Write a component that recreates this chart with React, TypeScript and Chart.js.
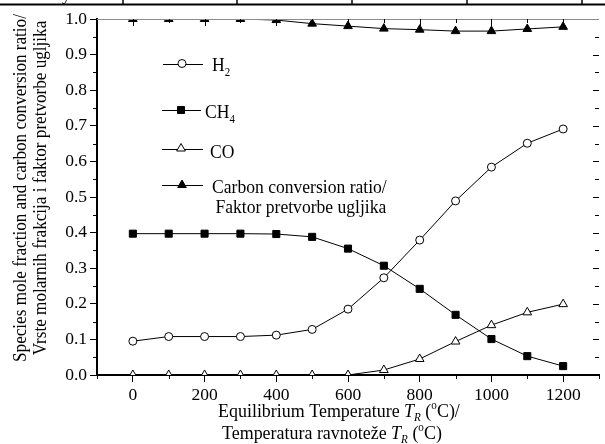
import React, { useEffect, useRef } from "react";
import { Chart, registerables } from "chart.js";

Chart.register(...registerables);

// ---------- data ----------
const temperatures = [0, 100, 200, 300, 400, 500, 600, 700, 800, 900, 1000, 1100, 1200];
const h2Fraction = [0.095, 0.108, 0.108, 0.108, 0.112, 0.128, 0.185, 0.273, 0.379, 0.489, 0.584, 0.651, 0.691];
const ch4Fraction = [0.397, 0.397, 0.397, 0.397, 0.396, 0.388, 0.355, 0.307, 0.242, 0.169, 0.101, 0.053, 0.025];
const coFraction = [0, 0, 0, 0, 0, 0, 0, 0.014, 0.045, 0.094, 0.14, 0.176, 0.199];
const carbonConversion = [1.0, 1.0, 1.0, 1.0, 0.997, 0.987, 0.98, 0.973, 0.97, 0.966, 0.966, 0.972, 0.978];

const xMin = -100;
const xMax = 1300;
const xStep = 100;
const yMin = 0;
const yMax = 1;
const yStep = 0.05;

const legendLabels = ["H", "CH", "CO", "Carbon conversion ratio/", "Faktor pretvorbe ugljika"];
const legendSubs = ["2", "4"];
const yTitleLines = [
  "Species mole fraction and carbon conversion ratio/",
  "Vrste molarnih frakcija i faktor pretvorbe ugljika",
];
const xTitleLine1 = "Equilibrium Temperature ";
const xTitleLine2 = "Temperatura ravnoteže ";

const FONT = '"Liberation Serif", "Times New Roman", serif';

type Seg = { t: string; italic?: boolean; sub?: boolean; sup?: boolean };

function drawRich(
  ctx: CanvasRenderingContext2D,
  segs: Seg[],
  x: number,
  y: number,
  size: number,
  k = 1
) {
  ctx.save();
  ctx.translate(x, y);
  ctx.scale(k, 1);
  let cx = 0;
  for (const s of segs) {
    const sz = s.sub || s.sup ? size * 0.62 : size;
    ctx.font = `${s.italic ? "italic " : ""}${sz}px ${FONT}`;
    const dy = s.sub ? size * 0.25 : s.sup ? -size * 0.42 : 0;
    ctx.fillText(s.t, cx, dy);
    cx += ctx.measureText(s.t).width;
  }
  ctx.restore();
}

function marker(ctx: CanvasRenderingContext2D, style: string, x: number, y: number, filled: boolean) {
  ctx.save();
  ctx.beginPath();
  if (style === "circle") {
    ctx.arc(x, y, 4, 0, Math.PI * 2);
  } else if (style === "rect") {
    const h = 3.5;
    ctx.rect(x - h, y - h, 2 * h, 2 * h);
  } else {
    const r = 5;
    for (let k = 0; k < 3; k++) {
      const a = (k * 2 * Math.PI) / 3;
      const px = x + Math.sin(a) * r;
      const py = y - Math.cos(a) * r;
      if (k === 0) ctx.moveTo(px, py);
      else ctx.lineTo(px, py);
    }
    ctx.closePath();
  }
  ctx.fillStyle = filled ? "#000" : "#fff";
  ctx.fill();
  ctx.strokeStyle = "#000";
  ctx.lineWidth = 1;
  ctx.stroke();
  ctx.restore();
}

const decorPlugin = {
  id: "decor",
  afterDraw(chart: any) {
    const ctx: CanvasRenderingContext2D = chart.ctx;
    const { left, right, top, bottom } = chart.chartArea;
    const xs = chart.scales.x;
    const ys = chart.scales.y;
    ctx.save();

    // fragment of table above
    ctx.strokeStyle = "#000";
    ctx.lineWidth = 2;
    ctx.beginPath();
    ctx.moveTo(0, 4.5);
    ctx.lineTo(605, 4.5);
    ctx.stroke();
    ctx.lineWidth = 1.5;
    [123, 237, 352, 467, 582].forEach((vx) => {
      ctx.beginPath();
      ctx.moveTo(vx, 0);
      ctx.lineTo(vx, 4);
      ctx.stroke();
    });
    ctx.fillStyle = "#000";
    ctx.font = `17px ${FONT}`;
    ctx.textAlign = "left";
    ctx.textBaseline = "alphabetic";
    ctx.fillText("y", 62, -0.5);

    // top frame line
    ctx.strokeStyle = "#8c8c8c";
    ctx.lineWidth = 1;
    ctx.beginPath();
    ctx.moveTo(left, top + 0.5);
    ctx.lineTo(right, top + 0.5);
    ctx.stroke();

    ctx.strokeStyle = "#000";
    ctx.lineWidth = 1;
    // x minor ticks (bottom) + top ticks
    for (let v = xMin; v <= xMax; v += xStep) {
      const px = Math.round(xs.getPixelForValue(v)) + 0.5;
      const major = v % 200 === 0;
      if (!major) {
        ctx.beginPath();
        ctx.moveTo(px, bottom);
        ctx.lineTo(px, bottom + 4);
        ctx.stroke();
      }
      if (v > xMin && v < xMax) {
        ctx.beginPath();
        ctx.moveTo(px, top);
        ctx.lineTo(px, top + (major ? 7 : 4));
        ctx.stroke();
      }
    }
    // y minor ticks (left) + right ticks
    const nY = Math.round((yMax - yMin) / yStep);
    for (let i = 0; i <= nY; i++) {
      const v = yMin + i * yStep;
      const py = Math.round(ys.getPixelForValue(v)) + 0.5;
      const major = i % 2 === 0;
      if (!major) {
        ctx.beginPath();
        ctx.moveTo(left - 4, py);
        ctx.lineTo(left, py);
        ctx.stroke();
      }
      if (i > 0 && i < nY) {
        ctx.beginPath();
        ctx.moveTo(right, py);
        ctx.lineTo(right - (major ? 6 : 4), py);
        ctx.stroke();
      }
    }

    // legend
    const rows = [
      { y: 63.5, style: "circle", filled: false, x0: 163, x1: 203, mx: 182 },
      { y: 110, style: "rect", filled: true, x0: 162, x1: 201, mx: 181 },
      { y: 148.5, style: "triangle", filled: false, x0: 162, x1: 203, mx: 181 },
      { y: 185, style: "triangle", filled: true, x0: 162, x1: 203, mx: 182 },
    ];
    rows.forEach((r) => {
      ctx.strokeStyle = "#000";
      ctx.lineWidth = 1;
      ctx.beginPath();
      ctx.moveTo(r.x0, Math.round(r.y) + 0.5);
      ctx.lineTo(r.x1, Math.round(r.y) + 0.5);
      ctx.stroke();
      marker(ctx, r.style, r.mx, r.y, r.filled);
    });
    ctx.fillStyle = "#000";
    ctx.textAlign = "left";
    ctx.textBaseline = "alphabetic";
    const LS = 18.5;
    const LK = 0.95;
    drawRich(ctx, [{ t: legendLabels[0] }, { t: legendSubs[0], sub: true }], 212, 71, LS, LK);
    drawRich(ctx, [{ t: legendLabels[1] }, { t: legendSubs[1], sub: true }], 205, 118, LS, LK);
    drawRich(ctx, [{ t: legendLabels[2] }], 210, 158, LS, LK);
    drawRich(ctx, [{ t: legendLabels[3] }], 212, 193, LS, LK);
    drawRich(ctx, [{ t: legendLabels[4] }], 215.5, 212.5, LS, LK);

    // x title
    const XS = 18.5;
    const XK = 0.97;
    drawRich(
      ctx,
      [
        { t: xTitleLine1 },
        { t: "T", italic: true },
        { t: "R", italic: true, sub: true },
        { t: " (" },
        { t: "o", sup: true },
        { t: "C)/" },
      ],
      218,
      416.5,
      XS,
      XK
    );
    drawRich(
      ctx,
      [
        { t: xTitleLine2 },
        { t: "T", italic: true },
        { t: "R", italic: true, sub: true },
        { t: " (" },
        { t: "o", sup: true },
        { t: "C)" },
      ],
      222,
      438.5,
      XS,
      XK
    );

    // y title (rotated)
    const YS = 18.5;
    const YK = 0.925;
    ctx.textAlign = "center";
    ctx.textBaseline = "alphabetic";
    ctx.font = `${YS}px ${FONT}`;
    [
      { x: 25.5, t: yTitleLines[0] },
      { x: 45.5, t: yTitleLines[1] },
    ].forEach((l) => {
      ctx.save();
      ctx.translate(l.x, 188);
      ctx.rotate(-Math.PI / 2);
      ctx.scale(YK, 1);
      ctx.fillText(l.t, 0, 0);
      ctx.restore();
    });

    ctx.restore();
  },
};

function series(values: number[]) {
  return temperatures.map((t, i) => ({ x: t, y: values[i] }));
}

export default function App() {
  const ref = useRef<HTMLCanvasElement | null>(null);

  useEffect(() => {
    document.body.style.margin = "0";
    const canvas = ref.current;
    if (!canvas) return;
    const common = {
      borderColor: "#000",
      borderWidth: 1,
      pointBorderColor: "#000",
      pointBorderWidth: 1,
      tension: 0,
      clip: 0,
      fill: false,
    };
    const chart = new Chart(canvas, {
      type: "line",
      data: {
        datasets: [
          {
            ...common,
            label: "Carbon conversion ratio",
            data: series(carbonConversion),
            pointStyle: "triangle",
            pointRadius: 5,
            pointBackgroundColor: "#000",
          },
          {
            ...common,
            label: "H2",
            data: series(h2Fraction),
            pointStyle: "circle",
            pointRadius: 4,
            pointBackgroundColor: "#fff",
          },
          {
            ...common,
            label: "CH4",
            data: series(ch4Fraction),
            pointStyle: "rect",
            pointRadius: 5,
            pointBackgroundColor: "#000",
          },
          {
            ...common,
            label: "CO",
            data: series(coFraction),
            pointStyle: "triangle",
            pointRadius: 5,
            pointBackgroundColor: "#fff",
          },
        ] as any,
      },
      options: {
        animation: false,
        responsive: false,
        maintainAspectRatio: false,
        devicePixelRatio: 1,
        layout: { padding: { top: 19, right: 0, left: 0, bottom: 0 } },
        plugins: {
          legend: { display: false },
          tooltip: { enabled: false },
          title: { display: false },
        },
        scales: {
          x: {
            type: "linear",
            min: xMin,
            max: xMax,
            afterFit: (s: any) => {
              s.height = 69;
            },
            ticks: {
              stepSize: xStep,
              autoSkip: false,
              maxRotation: 0,
              minRotation: 0,
              padding: 3,
              color: "#000",
              font: { family: FONT, size: 17.5 },
              callback: (v: any) => (v >= 0 && v <= 1200 && v % 200 === 0 ? String(v) : ""),
            },
            grid: {
              drawOnChartArea: false,
              drawTicks: true,
              tickLength: 7,
              tickWidth: 1,
              tickColor: (c: any) => (c.tick && c.tick.value % 200 === 0 ? "#000" : "rgba(0,0,0,0)"),
            },
            border: { color: "#000", width: 2 },
          },
          y: {
            type: "linear",
            min: yMin,
            max: yMax,
            afterFit: (s: any) => {
              s.width = 97;
            },
            ticks: {
              stepSize: yStep,
              autoSkip: false,
              padding: 3,
              color: "#000",
              font: { family: FONT, size: 17.5 },
              callback: (v: any) => (Math.round(v * 100) % 10 === 0 ? Number(v).toFixed(1) : ""),
            },
            grid: {
              drawOnChartArea: false,
              drawTicks: true,
              tickLength: 7,
              tickWidth: 1,
              tickColor: (c: any) =>
                c.tick && Math.round(c.tick.value * 100) % 10 === 0 ? "#000" : "rgba(0,0,0,0)",
            },
            border: { color: "#000", width: 2 },
          },
        },
      },
      plugins: [decorPlugin],
    });
    return () => chart.destroy();
  }, []);

  return (
    <div style={{ position: "absolute", left: 0, top: 0, width: 605, height: 444 }}>
      <canvas ref={ref} width={605} height={444} style={{ width: 605, height: 444, display: "block" }} />
    </div>
  );
}
